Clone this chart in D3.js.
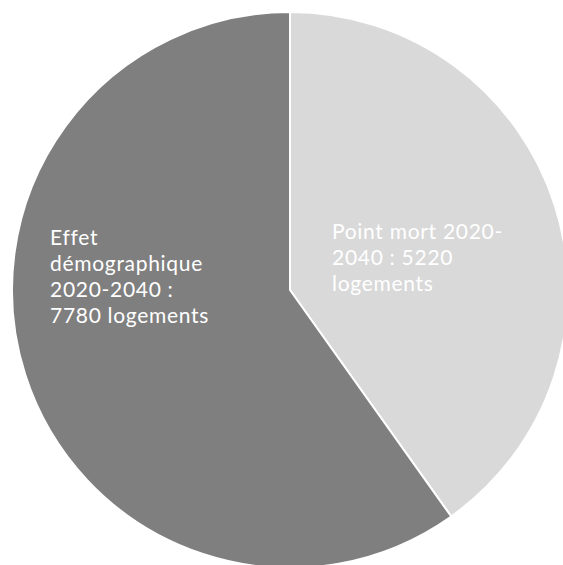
<!DOCTYPE html>
<html><head><meta charset="utf-8">
<script src="https://cdn.jsdelivr.net/npm/d3@7"></script>
<style>html,body{margin:0;padding:0;background:#fff;}svg{display:block;}</style>
</head><body>
<svg id="chart" width="563" height="565"></svg>
<script>
const categories = ["Point mort 2020-2040", "Effet démographique 2020-2040"];
const values = [5220, 7780];
const labelLines = [
  ["Point mort 2020-", "2040 : 5220", "logements"],
  ["Effet", "démographique", "2020-2040 :", "7780 logements"]
];
const colors = ["#d9d9d9", "#7f7f7f"];

const svg = d3.select("#chart");
const cx = 290, cy = 290, r = 278;
const g = svg.append("g").attr("transform", `translate(${cx},${cy})`);
const pie = d3.pie().sort(null).value(d => d)(values);
const arc = d3.arc().innerRadius(0).outerRadius(r);
g.selectAll("path").data(pie).join("path")
  .attr("d", arc)
  .attr("fill", (d, i) => colors[i])
  .attr("stroke", "#fff").attr("stroke-width", 2);

const labelPos = [[42, -51], [-240, -45]];
pie.forEach((d, i) => {
  const t = g.append("text")
    .attr("x", labelPos[i][0]).attr("y", labelPos[i][1])
    .attr("fill", "#fff")
    .attr("font-family", "Lato, sans-serif")
    .attr("font-size", 21)
    .attr("letter-spacing", 0.7);
  labelLines[i].forEach((l, j) => {
    t.append("tspan").attr("x", labelPos[i][0]).attr("dy", j === 0 ? 0 : 26).text(l);
  });
});
</script>
</body></html>
